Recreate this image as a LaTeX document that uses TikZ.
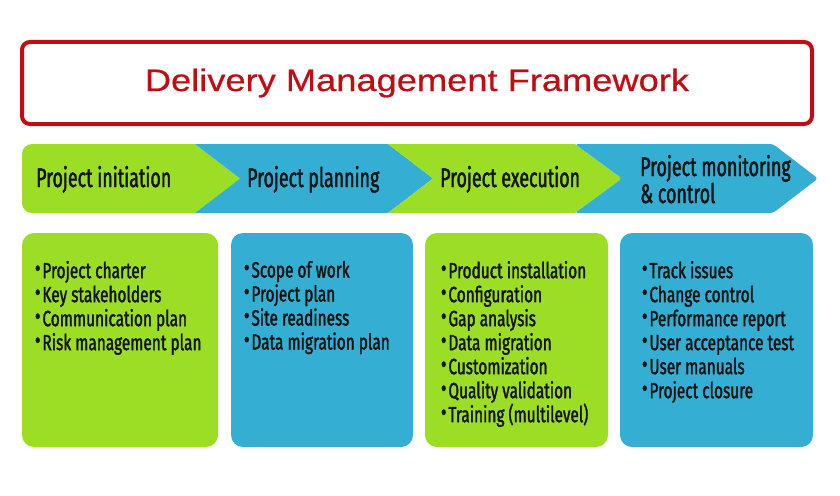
\documentclass[tikz,border=0pt]{standalone}
\usepackage{fontspec}
\setmainfont{Liberation Sans}
\newfontfamily\titlefont[FakeStretch=1.17, FakeBold=0.6]{Liberation Sans}
\newfontfamily\narrowfont[FakeStretch=0.66, FakeBold=1.6]{Fira Sans}
\newfontfamily\listfont[FakeStretch=0.7, FakeBold=1.6]{Fira Sans}
\usetikzlibrary{positioning}
\definecolor{phasegreen}{RGB}{156,222,38}
\definecolor{phaseblue}{RGB}{52,175,211}
\definecolor{framered}{RGB}{192,12,18}
\definecolor{inktext}{RGB}{20,20,20}
\newcommand{\itemdot}{\raisebox{0.15ex}{\fontsize{24}{24}\selectfont\textbullet}\hspace{2pt}}

\begin{document}
\begin{tikzpicture}[x=1pt, y=-1pt,
		titlebox/.style={draw=framered, fill=white, line width=4pt, rounded corners=8pt, minimum width=790pt, minimum height=82pt, text=framered, font=\titlefont\fontsize{31}{31}\selectfont},
		phaselabel/.style={anchor=base west, inner sep=0pt, align=left, text=inktext, font=\narrowfont\fontsize{27}{26}\selectfont},
		taskbox/.style={rounded corners=12pt, minimum height=214pt, inner sep=0pt},
		itemlist/.style={anchor=north west, inner sep=0pt, align=left, text=inktext, font=\listfont\fontsize{22}{24}\selectfont}]
		\useasboundingbox (0,0) rectangle (840,495);

		\node[titlebox] (title) at (417,83) {Delivery Management Framework};

		\fill[phasegreen] (195,213) [rounded corners=10pt] -- (22,213) -- (22,144) [sharp corners] -- (195,144) -- (240,178.5) -- cycle;
		\fill[phaseblue] (195,144) -- (388,144) -- (433,178.5) -- (388,213) -- (195,213) -- (240,178.5) -- cycle;
		\fill[phasegreen] (388,144) -- (575,144) -- (622,178.5) -- (575,213) -- (388,213) -- (433,178.5) -- cycle;
		\fill[phaseblue, rounded corners=3pt] (575,144) -- (773,144) -- (818,178.5) -- (773,213) -- (575,213) -- (622,178.5) -- cycle;

		\node[phaselabel] (initiation) at (36,187) {Project initiation};
		\node[phaselabel] (planning) at (247,187) {Project planning};
		\node[phaselabel] (execution) at (440,187) {Project execution};
		\node[phaselabel] (monitoring) at (640,203) {Project monitoring\\ \& control};

		\node[taskbox, fill=phasegreen, minimum width=196pt] (box1) at (120,340) {};
		\node[taskbox, fill=phaseblue, minimum width=182pt] (box2) at (322,340) {};
		\node[taskbox, fill=phasegreen, minimum width=183pt] (box3) at (516.5,340) {};
		\node[taskbox, fill=phaseblue, minimum width=193pt] (box4) at (716.5,340) {};

		\node[itemlist, below right=28pt and 13pt of box1.north west] (list1) {\itemdot Project charter\\ \itemdot Key stakeholders\\ \itemdot Communication plan\\ \itemdot Risk management plan};
		\node[itemlist, below right=28pt and 13pt of box2.north west] (list2) {\itemdot Scope of work\\ \itemdot Project plan\\ \itemdot Site readiness\\ \itemdot Data migration plan};
		\node[itemlist, below right=28pt and 16pt of box3.north west] (list3) {\itemdot Product installation\\ \itemdot Configuration\\ \itemdot Gap analysis\\ \itemdot Data migration\\ \itemdot Customization\\ \itemdot Quality validation\\ \itemdot Training (multilevel)};
		\node[itemlist, below right=28pt and 22pt of box4.north west] (list4) {\itemdot Track issues\\ \itemdot Change control\\ \itemdot Performance report\\ \itemdot User acceptance test\\ \itemdot User manuals\\ \itemdot Project closure};
	\end{tikzpicture}
\end{document}
